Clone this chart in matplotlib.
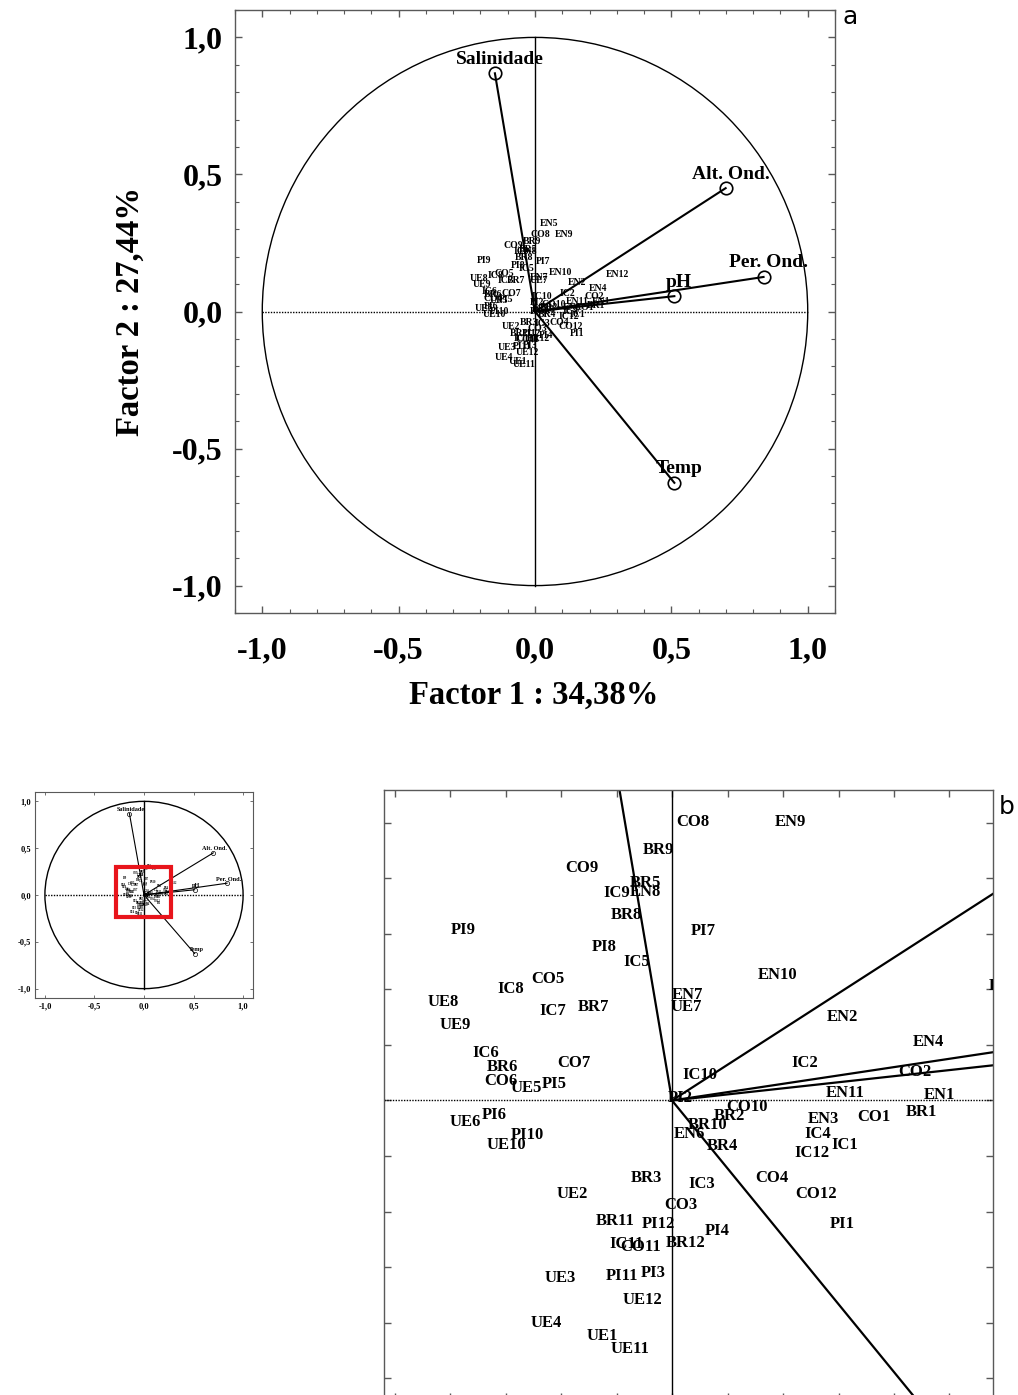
import matplotlib
matplotlib.use("Agg")
import matplotlib.pyplot as plt
from matplotlib.patches import Circle, Rectangle
from matplotlib.ticker import MultipleLocator, FuncFormatter, NullFormatter

# --------------------------------------------------------------------
# case scores (Factor 1, Factor 2), 12 samples per site
sites = ["BR", "CO", "EN", "IC", "PI", "UE"]
labels = [f"{s}{i}" for s in sites for i in range(1, 13)]

f1 = [
    0.225, 0.052, -0.023, 0.045, -0.024, -0.153, -0.071, -0.041, -0.012, 0.032, -0.051, 0.012,   # BR
    0.182, 0.219, 0.008, 0.090, -0.112, -0.154, -0.088, 0.019, -0.081, 0.068, -0.028, 0.130,     # CO
    0.241, 0.154, 0.136, 0.231, 0.051, 0.016, 0.014, -0.024, 0.107, 0.095, 0.156, 0.303,        # EN
    0.156, 0.120, 0.027, 0.131, -0.032, -0.168, -0.107, -0.145, -0.050, 0.025, -0.041, 0.126,    # IC
    0.153, 0.007, -0.017, 0.041, -0.106, -0.160, 0.028, -0.061, -0.188, -0.130, -0.045, -0.012,  # PI
    -0.063, -0.090, -0.101, -0.113, -0.131, -0.186, 0.013, -0.206, -0.195, -0.149, -0.038, -0.027,  # UE
]
f2 = [
    -0.010, -0.014, -0.070, -0.041, 0.196, 0.030, 0.084, 0.167, 0.226, -0.022, -0.109, -0.128,  # BR
    -0.015, 0.026, -0.094, -0.070, 0.109, 0.018, 0.034, 0.251, 0.209, -0.006, -0.132, -0.084,   # CO
    0.005, 0.075, -0.017, 0.053, 0.290, -0.030, 0.095, 0.188, 0.251, 0.113, 0.007, 0.103,       # EN
    -0.040, 0.034, -0.075, -0.030, 0.125, 0.043, 0.081, 0.100, 0.187, 0.023, -0.129, -0.047,    # IC
    -0.111, 0.002, -0.155, -0.118, 0.015, -0.013, 0.153, 0.138, 0.154, -0.031, -0.158, -0.111,  # PI
    -0.212, -0.084, -0.160, -0.200, 0.011, -0.019, 0.084, 0.089, 0.068, -0.040, -0.224, -0.180, # UE
]

# variable loadings
var_names = ["Salinidade", "Alt. Ond.", "Per. Ond.", "pH", "Temp"]
var_f1 = [-0.147, 0.699, 0.838, 0.511, 0.511]
var_f2 = [0.869, 0.450, 0.126, 0.056, -0.625]

xlabel = "Factor 1 : 34,38%"
ylabel = "Factor 2 : 27,44%"
# --------------------------------------------------------------------

W, H = 1018, 1395
SERIF = "Liberation Serif"
SPINE = "0.35"


def _comma(v, pos):
    if abs(v) < 1e-9:
        v = 0.0
    return f"{v:.1f}".replace(".", ",")


def _px(x, y, w, h):
    # pixel box (top-left origin) -> figure fraction
    return [x / W, 1 - (y + h) / H, w / W, h / H]


def _spines(ax, lw=1.0):
    for sp in ax.spines.values():
        sp.set_color(SPINE)
        sp.set_linewidth(lw)


def circle_panel(ax, case_fs, case_off, var_fs, var_off, lw, ms, mew, circ_lw):
    ax.set_xlim(-1.1, 1.1)
    ax.set_ylim(-1.1, 1.1)
    ax.add_patch(Circle((0, 0), 1.0, fill=False, color="k", lw=circ_lw))
    ax.plot([-1, 1], [0, 0], color="k", lw=circ_lw, ls=(0, (1, 1)))
    ax.plot([0, 0], [-1, 1], color="k", lw=circ_lw)
    for n, x, y in zip(var_names, var_f1, var_f2):
        ax.plot([0, x], [0, y], color="k", lw=lw)
        ax.plot(x, y, "o", mfc="none", mec="k", ms=ms, mew=mew)
        ax.annotate(n, (x, y), xytext=var_off, textcoords="offset points",
                    ha="center", va="bottom", fontsize=var_fs,
                    fontweight="bold", family=SERIF)
    for n, x, y in zip(labels, f1, f2):
        ax.annotate(n, (x, y), xytext=(0, case_off), textcoords="offset points",
                    ha="center", va="center", fontsize=case_fs,
                    fontweight="bold", family=SERIF)
    ax.xaxis.set_major_locator(MultipleLocator(0.5))
    ax.yaxis.set_major_locator(MultipleLocator(0.5))
    ax.xaxis.set_major_formatter(FuncFormatter(_comma))
    ax.yaxis.set_major_formatter(FuncFormatter(_comma))


fig = plt.figure(figsize=(W / 100, H / 100), dpi=100)

# ------ a: loading circle -------------------------------------------
ax = fig.add_axes(_px(235, 10, 600, 603))
circle_panel(ax, case_fs=7, case_off=6, var_fs=14, var_off=(3.5, 4),
             lw=1.5, ms=9, mew=1.2, circ_lw=1.0)
ax.xaxis.set_minor_locator(MultipleLocator(0.1))
ax.yaxis.set_minor_locator(MultipleLocator(0.1))
ax.tick_params(which="both", direction="in", top=True, right=True, color=SPINE)
ax.tick_params(which="major", length=5, width=1)
ax.tick_params(which="minor", length=3, width=0.8)
ax.tick_params(axis="x", which="major", pad=17)
ax.tick_params(axis="y", which="major", pad=9)
for t in ax.get_xticklabels() + ax.get_yticklabels():
    t.set_fontsize(23)
    t.set_fontweight("bold")
    t.set_family(SERIF)
_spines(ax)
fig.text(534 / W, 1 - 695 / H, xlabel, ha="center", va="center",
         fontsize=23.5, fontweight="bold", family=SERIF)
fig.text(130 / W, 1 - 312 / H, ylabel, ha="center", va="center", rotation=90,
         fontsize=23.5, fontweight="bold", family=SERIF)
fig.text(850 / W, 1 - 17 / H, "a", ha="center", va="center", fontsize=18)

# ------ inset: small copy with zoom box -----------------------------
axi = fig.add_axes(_px(35, 792, 218, 206))
circle_panel(axi, case_fs=2.0, case_off=1.5, var_fs=4.5, var_off=(1, 1),
             lw=0.8, ms=3, mew=0.5, circ_lw=1.0)
axi.tick_params(direction="in", length=2.5, width=0.6, pad=3, color=SPINE,
                top=True, right=True)
for t in axi.get_xticklabels() + axi.get_yticklabels():
    t.set_fontsize(6)
    t.set_fontweight("bold")
    t.set_family(SERIF)
_spines(axi, 0.8)
axi.add_patch(Rectangle((-0.28, -0.24), 0.55, 0.54, fill=False,
                        ec="#e8141b", lw=3, zorder=5))

# ------ b: zoom on the case scores ----------------------------------
axb = fig.add_axes(_px(384, 790, 609, 610))
axb.set_xlim(-0.2595, 0.2892)
axb.set_ylim(-0.2698, 0.2797)
axb.axhline(0, color="k", lw=1.0, ls=(0, (1, 1)))
axb.axvline(0, color="k", lw=1.0)
for x, y in zip(var_f1, var_f2):
    axb.plot([0, x], [0, y], color="k", lw=1.6)
for n, x, y in zip(labels, f1, f2):
    axb.text(x, y, n, ha="center", va="center", fontsize=12,
             fontweight="bold", family=SERIF, clip_on=True)
axb.xaxis.set_major_locator(MultipleLocator(0.05))
axb.yaxis.set_major_locator(MultipleLocator(0.05))
axb.xaxis.set_major_formatter(NullFormatter())
axb.yaxis.set_major_formatter(NullFormatter())
axb.tick_params(direction="in", length=5, width=1, color=SPINE,
                top=True, right=True)
_spines(axb)
fig.text(1007 / W, 1 - 807 / H, "b", ha="center", va="center", fontsize=18)

fig.savefig("out.png", dpi=100)
plt.close(fig)
